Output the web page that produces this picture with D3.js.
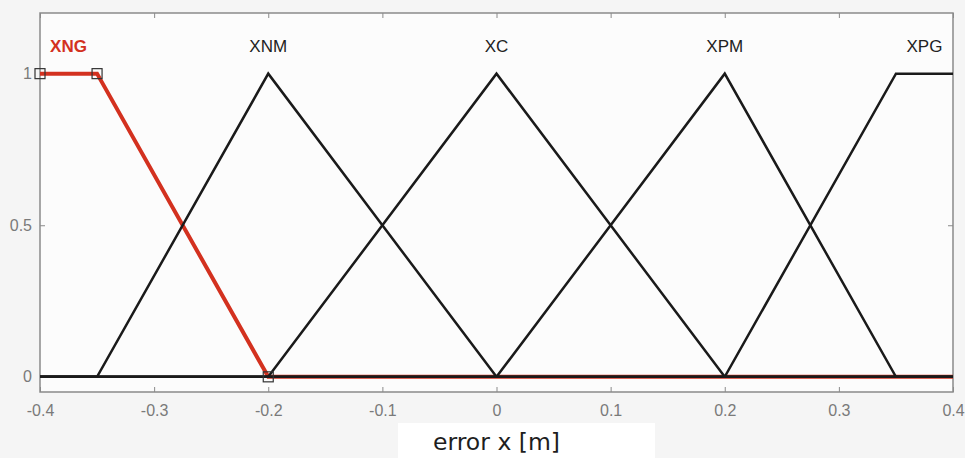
<!DOCTYPE html>
<html>
<head>
<meta charset="utf-8">
<script src="https://cdn.jsdelivr.net/npm/d3@7"></script>
<style>
  body { margin: 0; background: #f5f5f5; }
  .tick text { font-family: Helvetica, "Liberation Sans", Arial, sans-serif; }
</style>
</head>
<body>
<div class="mf-chart"></div>
<script>
// membership functions for "error x"
const mfNames = ["XNG", "XNM", "XC", "XPM", "XPG"];
const mfX = [
  [-0.4, -0.35, -0.2, 0.4],
  [-0.4, -0.35, -0.2, 0, 0.4],
  [-0.4, -0.2, 0, 0.2, 0.4],
  [-0.4, 0, 0.2, 0.35, 0.4],
  [-0.4, 0.2, 0.35, 0.4]
];
const mfY = [
  [1, 1, 0, 0],
  [0, 0, 1, 0, 0],
  [0, 0, 1, 0, 0],
  [0, 0, 1, 0, 0],
  [0, 0, 1, 1]
];
const labelX = [-0.375, -0.2, 0, 0.2, 0.375];
const xTicks = [-0.4, -0.3, -0.2, -0.1, 0, 0.1, 0.2, 0.3, 0.4];
const yTicks = [0, 0.5, 1];
const selected = 0; // XNG is highlighted

const W = 965, H = 458;
const margin = { top: 13, right: 12, bottom: 66, left: 40 };
const width = W - margin.left - margin.right;
const height = H - margin.top - margin.bottom;

const x = d3.scaleLinear().domain([-0.4, 0.4]).range([0, width]);
const y = d3.scaleLinear().domain([-0.05, 1.2]).range([height, 0]);

const root = d3.select(".mf-chart").append("svg")
  .attr("width", W).attr("height", H);

const svg = root.append("g")
  .attr("transform", "translate(" + margin.left + "," + margin.top + ")");

svg.append("rect")
  .attr("width", width).attr("height", height)
  .attr("fill", "#fcfcfc");

const axisCol = "#8a8a8a";
const fmtTick = d => d === 0 ? "0" : String(d); // plain hyphen minus, like the original

function styleAxis(g) {
  g.select(".domain").remove();
  g.selectAll(".tick line").attr("stroke", axisCol).attr("stroke-width", 1);
  g.selectAll(".tick text").attr("fill", "#7a7a7a").attr("font-size", 16);
}

svg.append("g")
  .attr("transform", "translate(0," + height + ")")
  .call(d3.axisBottom(x).tickValues(xTicks).tickSize(-5).tickPadding(13)
    .tickFormat(fmtTick))
  .call(styleAxis);

svg.append("g")
  .call(d3.axisTop(x).tickValues(xTicks).tickSize(-5).tickFormat(""))
  .call(styleAxis);

svg.append("g")
  .call(d3.axisLeft(y).tickValues(yTicks).tickSize(-5).tickPadding(8)
    .tickFormat(fmtTick))
  .call(styleAxis);

svg.append("g")
  .attr("transform", "translate(" + width + ",0)")
  .call(d3.axisRight(y).tickValues(yTicks).tickSize(-5).tickFormat(""))
  .call(styleAxis);

svg.append("rect")
  .attr("width", width).attr("height", height)
  .attr("fill", "none").attr("stroke", axisCol).attr("stroke-width", 1.5);

const line = d3.line().x(d => x(d[0])).y(d => y(d[1]));

// highlighted set first, the black ones sit on top of it
const selPts = mfX[selected].map((v, j) => [v, mfY[selected][j]]);
svg.append("path")
  .datum(selPts)
  .attr("d", line)
  .attr("fill", "none")
  .attr("stroke", "#d3311f")
  .attr("stroke-width", 4);

mfNames.forEach((n, i) => {
  if (i === selected) return;
  svg.append("path")
    .datum(mfX[i].map((v, j) => [v, mfY[i][j]]))
    .attr("d", line)
    .attr("fill", "none")
    .attr("stroke", "#1a1a1a")
    .attr("stroke-width", 2.5)
    .attr("stroke-linejoin", "miter");
});

svg.selectAll(".vtx")
  .data(selPts.slice(0, 3))
  .enter().append("rect")
  .attr("class", "vtx")
  .attr("x", d => x(d[0]) - 5)
  .attr("y", d => y(d[1]) - 5)
  .attr("width", 10).attr("height", 10)
  .attr("fill", "none")
  .attr("stroke", "#333")
  .attr("stroke-width", 1.2);

svg.selectAll(".mf-label")
  .data(mfNames)
  .enter().append("text")
  .attr("class", "mf-label")
  .attr("x", (d, i) => x(labelX[i]))
  .attr("y", y(1.09) + 6)
  .attr("text-anchor", "middle")
  .attr("font-family", "Helvetica, 'Liberation Sans', Arial, sans-serif")
  .attr("font-size", 17)
  .attr("font-weight", (d, i) => i === selected ? "bold" : "normal")
  .attr("fill", (d, i) => i === selected ? "#d3311f" : "#222")
  .text(d => d);

// axis title on its white patch
root.append("rect")
  .attr("x", 398).attr("y", 423).attr("width", 257).attr("height", 35)
  .attr("fill", "#ffffff");

root.append("text")
  .attr("x", 433).attr("y", 450)
  .attr("font-family", "'DejaVu Sans', sans-serif")
  .attr("font-size", 23)
  .attr("textLength", 127)
  .attr("lengthAdjust", "spacingAndGlyphs")
  .attr("fill", "#1e1e1e")
  .text("error x [m]");
</script>
</body>
</html>
